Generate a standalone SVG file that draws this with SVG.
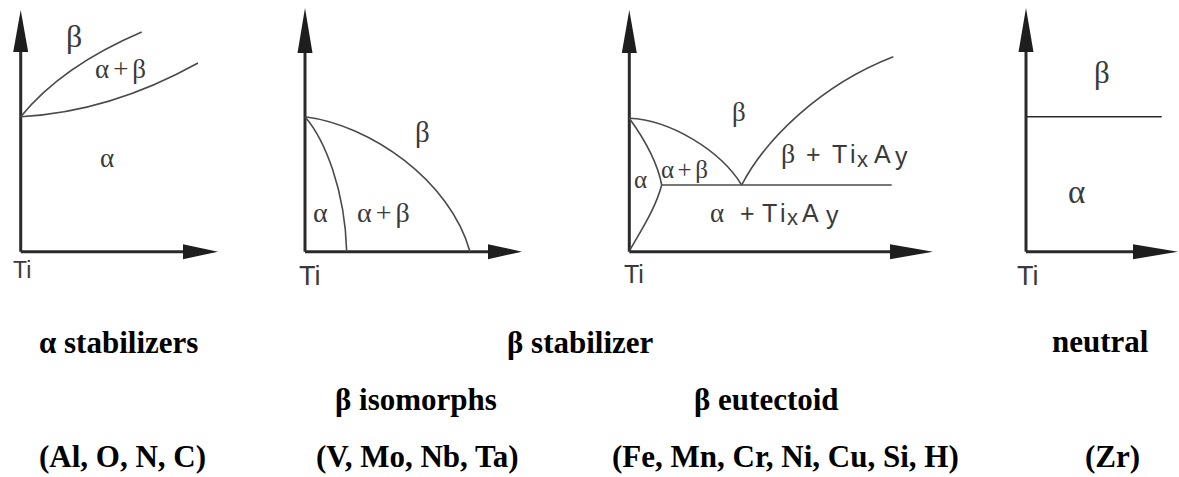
<svg xmlns="http://www.w3.org/2000/svg" width="1179" height="477" viewBox="0 0 1179 477">
<style>
.axis{stroke:#2a2a2a;stroke-width:3;fill:none}
.head{fill:#1e1e1e;stroke:none}
.curve{stroke:#4a4a4a;stroke-width:1.6;fill:none}
.gr{font-family:"Liberation Serif","Times New Roman",serif;fill:#3a3a3a}
.sa{font-family:"Liberation Sans",Arial,sans-serif;fill:#3a3a3a}
.cap{font-family:"Liberation Serif","Times New Roman",serif;font-weight:bold;font-size:31px;fill:#000}
</style>
<rect width="1179" height="477" fill="#fff"/>

<g id="panel-alpha">
  <line class="axis" x1="20.7" y1="40" x2="20.7" y2="251.7"/>
  <line class="axis" x1="20.7" y1="251.7" x2="190" y2="251.7"/>
  <polygon class="head" points="20.7,10 13.2,52 28.2,52"/>
  <polygon class="head" points="218,251.7 183,244.2 183,259.2"/>
  <path class="curve" d="M20.7,116.7 Q62,66 141.7,32"/>
  <path class="curve" d="M20.7,116.7 Q110,112 198,63"/>
  <text class="gr" x="66" y="47" font-size="32">β</text>
  <text class="gr" x="95" y="78" font-size="27" letter-spacing="4">α+β</text>
  <text class="gr" x="100" y="167" font-size="27">α</text>
  <text class="sa" x="13" y="278" font-size="23">Ti</text>
</g>

<g id="panel-isomorph">
  <line class="axis" x1="305" y1="40" x2="305" y2="251.7"/>
  <line class="axis" x1="305" y1="251.7" x2="495" y2="251.7"/>
  <polygon class="head" points="305,8 297.5,53 312.5,53"/>
  <polygon class="head" points="522,251.7 488,244.2 488,259.2"/>
  <path class="curve" d="M305,116.7 C370,125 450,180 470,251.7"/>
  <path class="curve" d="M305,116.7 C325,140 345,190 346.7,251.7"/>
  <text class="gr" x="415" y="142" font-size="29">β</text>
  <text class="gr" x="313" y="222" font-size="28">α</text>
  <text class="gr" x="357" y="222" font-size="28" letter-spacing="4">α+β</text>
  <text class="sa" x="299" y="285" font-size="27">Ti</text>
</g>

<g id="panel-eutectoid">
  <line class="axis" x1="629.3" y1="40" x2="629.3" y2="251.7"/>
  <line class="axis" x1="629.3" y1="251.7" x2="895" y2="251.7"/>
  <polygon class="head" points="629.3,10 621.8,53 636.8,53"/>
  <polygon class="head" points="933,251.7 890,244.2 890,259.2"/>
  <path class="curve" d="M629.3,118.3 C670,120 720,150 741.7,185"/>
  <path class="curve" d="M741.7,185 C765,140 820,85 893.3,56.7"/>
  <line class="curve" x1="661.7" y1="185" x2="891.7" y2="185"/>
  <path class="curve" d="M629.3,118.3 C645,140 658,165 661.7,185 C655,210 640,232 630,250"/>
  <text class="gr" x="732" y="121" font-size="27">β</text>
  <text class="gr" x="634" y="188" font-size="25">α</text>
  <text class="gr" x="661" y="178" font-size="25" letter-spacing="3.5">α+β</text>
  <text font-size="25"><tspan class="gr" x="781" y="163" font-size="28">β</tspan><tspan class="sa" x="806" y="163">+</tspan><tspan class="sa" x="832" y="163">T</tspan><tspan class="sa" x="850" y="163">i</tspan><tspan class="sa" x="857" y="166.5" font-size="22">x</tspan><tspan class="sa" x="874" y="163">A</tspan><tspan class="sa" x="895" y="165" font-size="25">y</tspan></text>
  <text font-size="25"><tspan class="gr" x="710" y="221.7" font-size="27">α</tspan><tspan class="sa" x="740" y="221.7">+</tspan><tspan class="sa" x="762" y="221.7">T</tspan><tspan class="sa" x="780" y="221.7">i</tspan><tspan class="sa" x="787" y="224.5" font-size="22">x</tspan><tspan class="sa" x="802" y="221.7">A</tspan><tspan class="sa" x="826" y="223.5" font-size="25">y</tspan></text>
  <text class="sa" x="624" y="283" font-size="25">Ti</text>
</g>

<g id="panel-neutral">
  <line class="axis" x1="1026" y1="40" x2="1026" y2="251.7"/>
  <line class="axis" x1="1026" y1="251.7" x2="1140" y2="251.7"/>
  <polygon class="head" points="1026,8 1018.5,52 1033.5,52"/>
  <polygon class="head" points="1178,251.7 1133,244.2 1133,259.2"/>
  <line x1="1026" y1="116.7" x2="1161.7" y2="116.7" stroke="#2a2a2a" stroke-width="1.6"/>
  <text class="gr" x="1094" y="83" font-size="31">β</text>
  <text class="gr" x="1068" y="203" font-size="33">α</text>
  <text class="sa" x="1017" y="285" font-size="27">Ti</text>
</g>

<g id="captions">
  <text class="cap" x="39" y="353">α stabilizers</text>
  <text class="cap" x="507" y="353">β stabilizer</text>
  <text class="cap" x="1052" y="352">neutral</text>
  <text class="cap" x="335" y="410">β isomorphs</text>
  <text class="cap" x="694" y="410">β eutectoid</text>
  <text class="cap" x="39" y="467">(Al, O, N, C)</text>
  <text class="cap" x="316" y="467">(V, Mo, Nb, Ta)</text>
  <text class="cap" x="612" y="467">(Fe, Mn, Cr, Ni, Cu, Si, H)</text>
  <text class="cap" x="1085" y="467">(Zr)</text>
</g>
</svg>
